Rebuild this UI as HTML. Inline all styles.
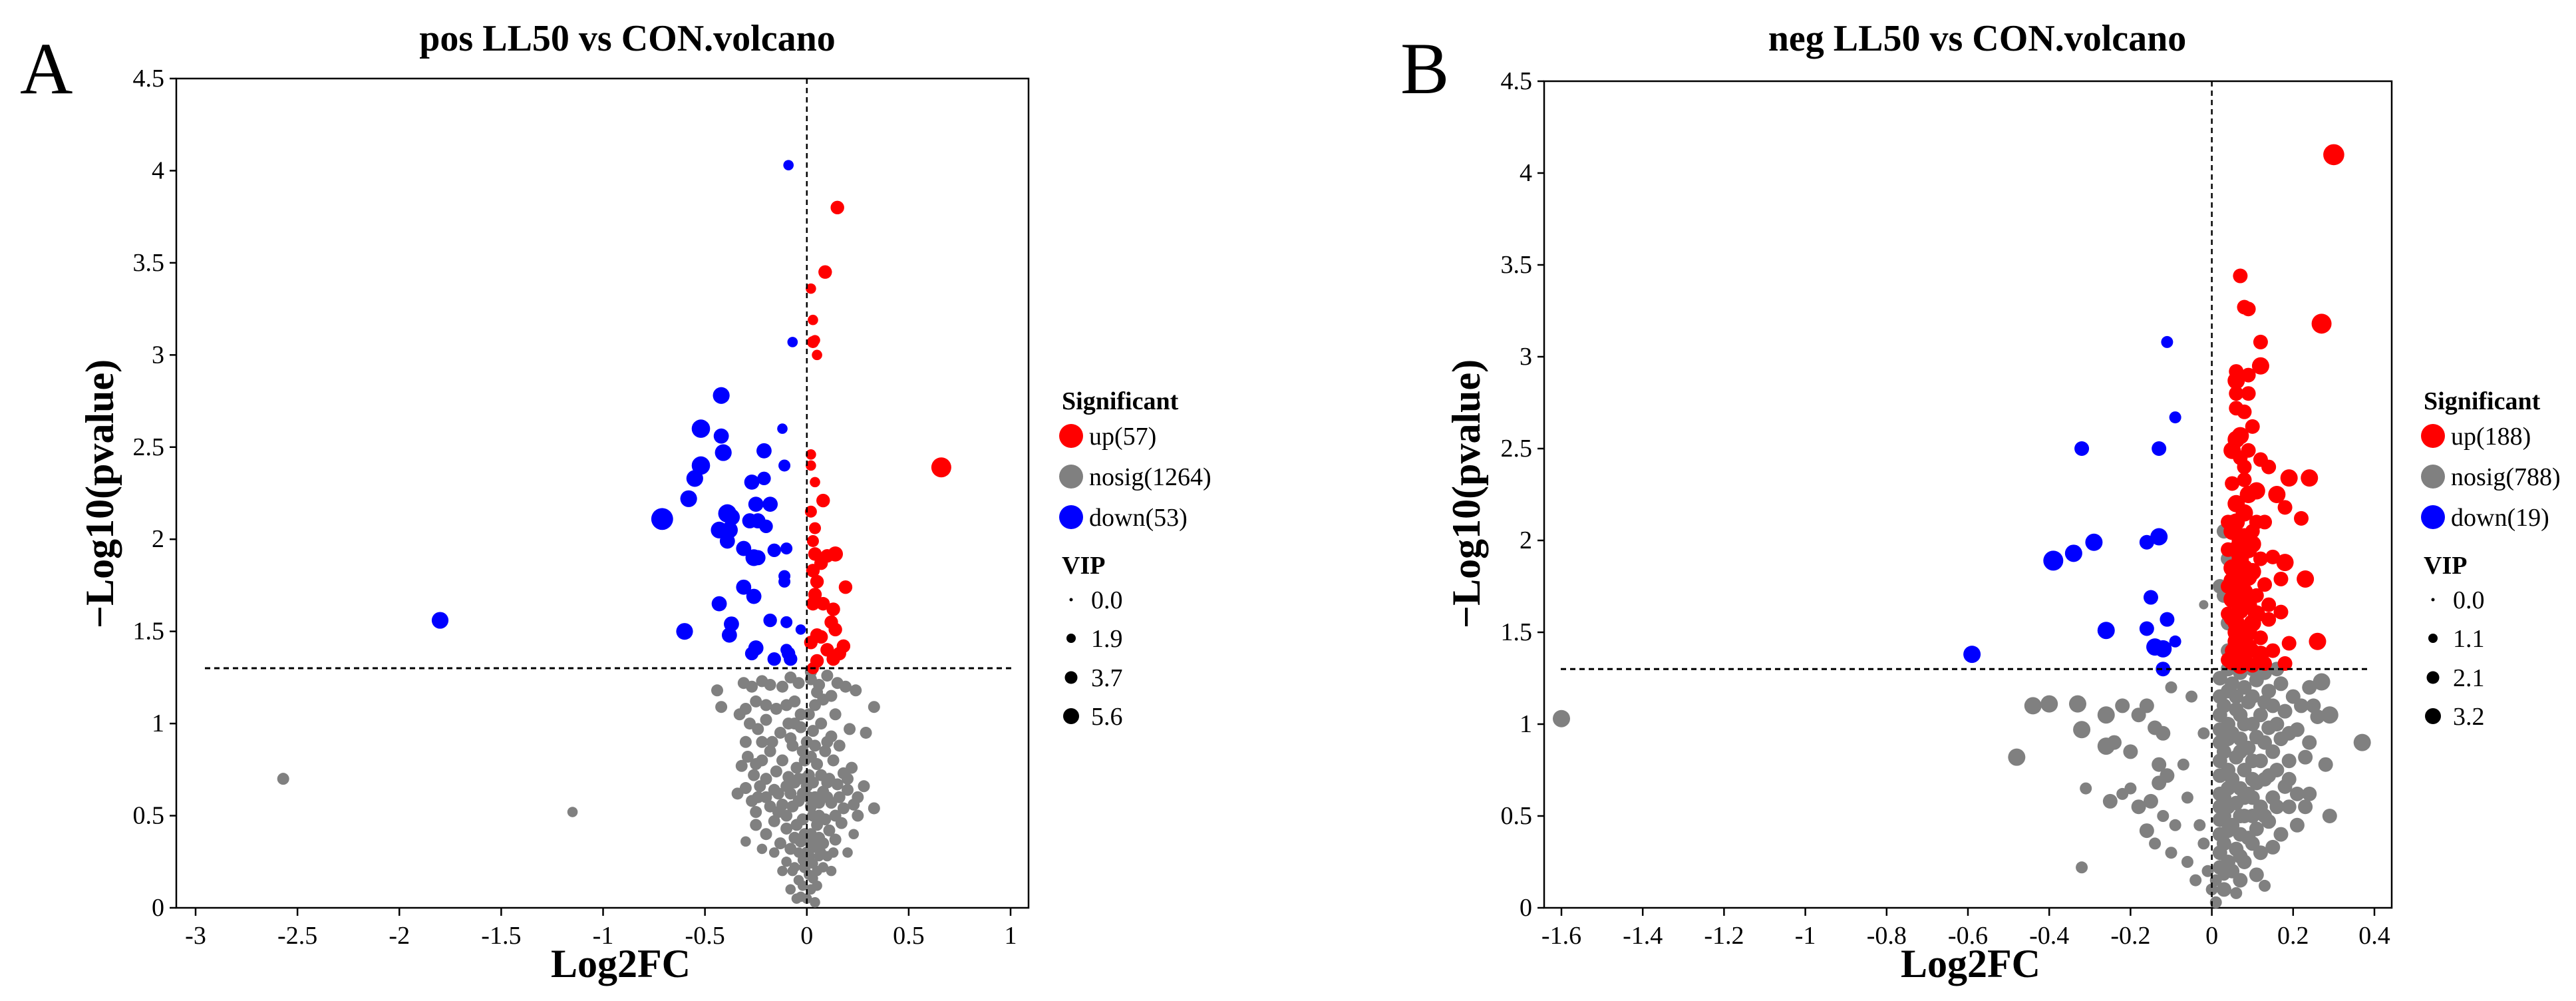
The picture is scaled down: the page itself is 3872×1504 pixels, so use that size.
<!DOCTYPE html>
<html><head><meta charset="utf-8">
<style>
html,body{margin:0;padding:0;background:#fff;}
svg{display:block;}
text{font-family:"Liberation Serif","Times New Roman",serif;fill:#000;}
</style></head>
<body>
<svg id="chart" width="3872" height="1504" viewBox="0 0 3872 1504" xmlns="http://www.w3.org/2000/svg" font-family="'Liberation Serif', serif">
</svg>
<script>
// ---------- Panel A data ([log2fc, -log10p, vip]) ----------
const upA = [[0.15,3.8,3],[0.09,3.45,3],[0.02,3.36,2],[0.03,3.19,2],[0.03,3.07,2.5],[0.04,3.08,2],[0.05,3.0,2],[0.66,2.39,5],[0.02,2.46,2],[0.02,2.4,2],[0.04,2.31,2],[0.08,2.21,3],[0.02,2.15,2.5],[0.04,2.06,2.5],[0.03,1.99,2.5],[0.04,1.92,3],[0.1,1.91,3],[0.14,1.92,3.5],[0.07,1.87,3],[0.03,1.83,3],[0.05,1.77,3],[0.19,1.74,3],[0.04,1.7,3],[0.03,1.65,3],[0.08,1.65,3],[0.13,1.62,3],[0.12,1.55,3],[0.14,1.51,3],[0.05,1.48,3],[0.07,1.47,3],[0.02,1.44,3],[0.1,1.4,3],[0.18,1.42,3],[0.16,1.38,3],[0.13,1.35,3],[0.05,1.34,3],[0.03,1.3,2.5]];
const downA = [[-0.09,4.03,2],[-0.07,3.07,2],[-0.42,2.78,4],[-0.52,2.6,4.5],[-0.12,2.6,2],[-0.42,2.56,3.5],[-0.41,2.47,4],[-0.21,2.48,3.5],[-0.52,2.4,4.5],[-0.11,2.4,2.5],[-0.55,2.33,4],[-0.27,2.31,3.5],[-0.21,2.33,3],[-0.58,2.22,4],[-0.25,2.19,3.5],[-0.18,2.19,3.5],[-0.71,2.11,5.6],[-0.39,2.14,4.5],[-0.37,2.12,4],[-0.28,2.1,3.5],[-0.24,2.1,3.5],[-0.2,2.07,3],[-0.43,2.05,4],[-0.38,2.05,4],[-0.39,1.99,3.5],[-0.31,1.95,3.5],[-0.16,1.94,3],[-0.1,1.95,2.5],[-0.26,1.9,4],[-0.24,1.9,3.5],[-0.11,1.8,2.5],[-0.11,1.77,2.5],[-0.31,1.74,3.5],[-0.26,1.69,3.5],[-0.43,1.65,3.5],[-0.18,1.56,3],[-0.1,1.55,2.5],[-0.37,1.54,3.5],[-0.6,1.5,4],[-1.8,1.56,4],[-0.38,1.48,3.5],[-0.03,1.51,2],[-0.25,1.41,3.5],[-0.27,1.38,3],[-0.16,1.35,3],[-0.09,1.38,3],[-0.08,1.35,3],[-0.1,1.4,2.5]];
const nosigA = [[-2.57,0.7,2.5],[-1.15,0.52,2],[-0.31,1.22,2.5],[-0.27,1.2,2.5],[-0.22,1.23,2.5],[-0.18,1.21,2.5],[-0.12,1.2,2.5],[-0.08,1.25,2.5],[-0.04,1.22,2.5],[0.02,1.24,2.5],[0.06,1.21,2.5],[0.1,1.26,2.5],[0.15,1.22,2.5],[0.19,1.2,2.5],[0.24,1.18,2.5],[-0.44,1.18,2.5],[-0.42,1.09,2.5],[0.33,1.09,2.5],[-0.3,1.08,2.5],[-0.25,1.12,2.5],[-0.2,1.1,2.5],[-0.15,1.08,2.5],[-0.06,1.12,2.5],[0.04,1.1,2.5],[0.08,1.13,2.5],[0.14,1.05,2.5],[-0.33,1.05,2.5],[-0.28,1.0,2.5],[-0.24,0.97,2.5],[-0.2,1.02,2.5],[-0.13,0.95,2.5],[-0.09,1.0,2.5],[-0.03,0.98,2.5],[0.03,0.96,2.5],[0.07,1.0,2.5],[0.12,0.93,2.5],[0.21,0.97,2.5],[0.29,0.95,2.5],[-0.3,0.9,2.5],[-0.17,0.9,2.5],[-0.07,0.88,2.5],[-0.29,0.82,2.5],[-0.25,0.78,2.5],[-0.22,0.8,2.5],[-0.18,0.85,2.5],[-0.12,0.8,2.5],[-0.05,0.76,2.5],[0.02,0.82,2.5],[0.05,0.78,2.5],[0.09,0.85,2.5],[0.13,0.8,2.5],[0.18,0.73,2.5],[0.22,0.76,2.5],[-0.32,0.77,2.5],[-0.26,0.72,2.5],[-0.15,0.74,2.5],[-0.09,0.71,2.5],[0.11,0.7,2.5],[0.15,0.67,2.5],[0.01,0.72,2.5],[-0.02,0.85,2.5],[-0.34,0.62,2.5],[-0.3,0.65,2.5],[-0.27,0.58,2.5],[-0.23,0.66,2.5],[-0.2,0.6,2.5],[-0.16,0.64,2.5],[-0.12,0.56,2.5],[-0.08,0.62,2.5],[-0.04,0.58,2.5],[0.0,0.66,2.5],[0.04,0.6,2.5],[0.08,0.63,2.5],[0.12,0.57,2.5],[0.16,0.6,2.5],[0.2,0.64,2.5],[0.23,0.56,2.5],[0.28,0.66,2.5],[0.33,0.54,2.5],[-0.25,0.52,2.5],[-0.14,0.52,2.5],[0.06,0.5,2.5],[0.14,0.5,2.5],[-0.06,0.68,2.5],[0.1,0.68,2.5],[-0.18,0.55,2.5],[0.18,0.54,2.5],[-0.3,0.36,2],[-0.25,0.45,2.5],[-0.2,0.4,2.5],[-0.16,0.47,2.5],[-0.13,0.35,2.5],[-0.1,0.43,2.5],[-0.06,0.38,2.5],[-0.02,0.48,2.5],[0.02,0.4,2.5],[0.05,0.45,2.5],[0.08,0.35,2.5],[0.11,0.42,2.5],[0.14,0.37,2.5],[0.17,0.46,2.5],[0.23,0.4,2],[0.2,0.3,2],[-0.22,0.32,2],[0.07,0.3,2],[-0.04,0.3,2],[-0.1,0.25,2],[-0.07,0.2,2],[-0.04,0.15,2],[-0.02,0.26,2],[0.01,0.18,2],[0.03,0.24,2],[0.05,0.12,2],[0.08,0.22,2],[0.1,0.28,2],[-0.08,0.1,2],[-0.03,0.06,2],[0.0,0.05,2],[0.02,0.1,2],[0.12,0.2,2],[-0.12,0.2,2],[0.06,0.28,2],[0.0,0.9,2.5],[0.01,0.6,2.5],[-0.01,0.4,2.5],[0.02,0.35,2.5],[0.01,1.05,2.5],[-0.01,0.7,2.5],[0.0,0.3,2.5],[0.02,0.55,2.5],[-0.05,0.05,2],[0.04,0.03,2],[-0.02,0.12,2],[0.03,0.16,2],[-0.06,0.22,2],[0.05,0.2,2],[-0.01,0.22,2.5],[0.01,0.28,2.5],[-0.03,0.36,2.5],[0.04,0.33,2.5],[-0.08,0.32,2.5],[0.06,0.38,2.5],[-0.05,0.45,2.5],[0.03,0.5,2.5],[-0.1,0.5,2.5],[0.09,0.48,2.5],[-0.07,0.55,2.5],[0.06,0.57,2.5],[-0.02,0.62,2.5],[-0.1,0.66,2.5],[0.03,0.68,2.5],[0.07,0.72,2.5],[-0.04,0.7,2.5],[-0.14,0.62,2.5],[0.1,0.6,2.5],[-0.2,0.7,2.5],[0.2,0.7,2.5],[-0.24,0.6,2.5],[0.25,0.6,2.5],[-0.01,0.8,2.5],[0.04,0.88,2.5],[-0.08,0.92,2.5],[0.1,0.9,2.5],[-0.03,1.05,2.5],[0.05,1.17,2.5],[-0.1,1.1,2.5],[0.12,1.15,2.5],[0.02,1.28,2.5],[-0.06,1.0,2.5],[0.16,0.88,2.5],[-0.22,0.9,2.5],[0.25,0.5,2.5],[-0.16,0.3,2],[0.13,0.3,2]];
const xTicksA = [-3,-2.5,-2,-1.5,-1,-0.5,0,0.5,1];
const xTickLabelsA = ["-3","-2.5","-2","-1.5","-1","-0.5","0","0.5","1"];
const vipLegendA = ["0.0","1.9","3.7","5.6"];
const countsA = [57,1264,53];

// ---------- Panel B data ----------
const upB = [[0.3,4.1,3.2],[0.07,3.44,2],[0.27,3.18,3],[0.08,3.27,2],[0.09,3.26,2],[0.12,3.08,2],[0.12,2.95,2.5],[0.06,2.92,2],[0.06,2.87,2.5],[0.09,2.9,2],[0.06,2.8,2],[0.09,2.8,2],[0.06,2.72,2],[0.08,2.7,2],[0.07,2.57,2.5],[0.06,2.55,2.5],[0.09,2.49,2],[0.05,2.49,2.5],[0.12,2.44,2],[0.14,2.4,2],[0.19,2.34,2.5],[0.24,2.34,2.5],[0.05,2.31,2],[0.08,2.33,2],[0.11,2.27,2.5],[0.16,2.25,2.5],[0.18,2.18,2],[0.22,2.12,2],[0.06,2.2,2.5],[0.08,2.15,2.5],[0.05,2.05,2.5],[0.07,2.0,2.5],[0.09,1.95,2.5],[0.15,1.91,2],[0.18,1.88,2.5],[0.05,1.85,2.5],[0.1,1.83,2.5],[0.13,1.76,2],[0.17,1.79,2],[0.23,1.79,2.5],[0.06,1.7,2.5],[0.09,1.65,2.5],[0.14,1.57,2],[0.17,1.61,2],[0.05,1.58,2.5],[0.1,1.55,2.5],[0.12,1.47,2],[0.19,1.44,2],[0.26,1.45,2.5],[0.06,1.45,2.5],[0.08,1.38,2.5],[0.05,1.34,2.5],[0.13,1.33,2],[0.18,1.33,2],[0.1,1.32,2],[0.04,1.6,2],[0.04,1.75,2],[0.04,1.95,2],[0.04,2.1,2],[0.07,1.78,2.5],[0.07,1.9,2.5],[0.06,1.5,2.5],[0.1,2.05,2],[0.11,1.7,2],[0.12,1.9,2],[0.08,2.4,2],[0.1,1.4,2],[0.05,1.4,2],[0.07,1.62,2.5],[0.11,2.1,2],[0.04,1.35,2],[0.07,1.32,2.5],[0.09,1.5,2.5],[0.08,1.72,2.5],[0.1,1.98,2.5],[0.06,2.1,2.5],[0.09,2.25,2.5],[0.05,1.68,2.5],[0.08,1.85,2.5],[0.11,1.6,2.5],[0.06,1.95,2.5],[0.08,2.02,2.5],[0.09,1.42,2.5],[0.12,1.38,2.5],[0.15,1.4,2],[0.14,1.65,2],[0.13,2.1,2],[0.05,1.78,2.5],[0.07,2.45,2],[0.1,2.62,2],[0.06,1.55,2.5],[0.09,1.8,2.5]];
const downB = [[-0.11,3.08,1.5],[-0.09,2.67,1.5],[-0.32,2.5,2],[-0.13,2.5,2],[-0.39,1.89,3],[-0.34,1.93,2.5],[-0.29,1.99,2.5],[-0.13,2.02,2.5],[-0.16,1.99,2],[-0.15,1.69,2],[-0.11,1.57,2],[-0.16,1.52,2],[-0.26,1.51,2.5],[-0.09,1.45,1.5],[-0.14,1.42,2.5],[-0.12,1.41,2.5],[-0.59,1.38,2.5],[-0.12,1.3,2]];
const nosigB = [[-1.6,1.03,2.5],[-0.48,0.82,2.5],[-0.44,1.1,2.5],[-0.4,1.11,2.5],[-0.33,1.11,2.5],[-0.32,0.97,2.5],[-0.26,1.05,2.5],[-0.22,1.1,2],[-0.26,0.88,2.5],[-0.24,0.9,2],[-0.2,0.85,2],[-0.18,1.05,2],[-0.16,1.1,2],[-0.14,0.98,2],[-0.13,0.78,2],[-0.12,0.95,2],[-0.1,1.2,1.5],[-0.05,1.15,1.5],[-0.02,1.65,1],[-0.31,0.65,1.5],[-0.25,0.58,2],[-0.22,0.62,1.5],[-0.18,0.55,2],[-0.15,0.58,2],[-0.13,0.68,2],[-0.11,0.72,2],[-0.07,0.78,1.5],[-0.06,0.6,1.5],[-0.12,0.5,1.5],[-0.09,0.45,1.5],[-0.16,0.42,2],[-0.14,0.35,1.5],[-0.1,0.3,1.5],[-0.06,0.25,1.5],[-0.04,0.15,1.5],[-0.32,0.22,1.5],[-0.2,0.65,1.5],[-0.03,0.45,1.5],[-0.02,0.95,1.5],[0.0,0.1,1.5],[0.02,1.25,2],[0.05,1.22,2],[0.08,1.2,2],[0.11,1.24,2],[0.14,1.18,2],[0.17,1.22,2],[0.2,1.15,2],[0.24,1.2,2],[0.27,1.23,2.5],[0.03,1.1,2],[0.06,1.08,2],[0.09,1.12,2],[0.12,1.05,2],[0.15,1.1,2],[0.18,1.07,2],[0.22,1.1,2],[0.26,1.04,2],[0.29,1.05,2.5],[0.02,0.97,2],[0.05,0.95,2],[0.08,1.0,2],[0.11,0.93,2],[0.14,0.98,2],[0.17,0.92,2],[0.21,0.97,2],[0.24,0.9,2],[0.37,0.9,2.5],[0.03,0.85,2],[0.06,0.82,2],[0.09,0.87,2],[0.12,0.8,2],[0.15,0.85,2],[0.19,0.8,2],[0.23,0.82,2],[0.28,0.78,2],[0.02,0.72,2],[0.05,0.7,2],[0.08,0.75,2],[0.11,0.68,2],[0.14,0.72,2],[0.18,0.66,2],[0.21,0.62,2],[0.24,0.62,2],[0.03,0.6,2],[0.06,0.57,2],[0.09,0.62,2],[0.12,0.55,2],[0.15,0.6,2],[0.19,0.55,2],[0.23,0.55,2],[0.29,0.5,2],[0.02,0.48,2],[0.05,0.45,2],[0.08,0.5,2],[0.11,0.43,2],[0.14,0.47,2],[0.17,0.4,2],[0.03,0.35,2],[0.06,0.32,2],[0.09,0.38,2],[0.12,0.3,2],[0.15,0.33,2],[0.02,0.22,2],[0.05,0.2,2],[0.08,0.25,2],[0.11,0.18,2],[0.13,0.12,1.5],[0.03,0.1,2],[0.06,0.08,1.5],[0.01,0.03,1.5],[0.04,1.3,2],[0.07,1.28,2],[0.1,1.3,2],[0.13,1.28,2],[0.16,1.3,2],[0.04,1.4,2],[0.04,1.55,2],[0.03,1.7,2],[0.02,1.75,2],[0.03,2.05,2],[0.05,2.1,2],[0.04,1.9,2],[0.07,0.15,2],[0.1,0.6,2],[0.07,0.92,2],[0.1,1.15,2],[0.13,0.9,2],[0.16,0.75,2],[0.04,0.65,2],[0.07,0.4,2],[0.1,0.8,2],[0.04,1.0,2],[0.06,1.15,2],[0.03,0.5,2],[0.08,0.6,2],[0.02,1.15,2],[0.02,1.05,2],[0.02,0.9,2],[0.02,0.8,2],[0.02,0.62,2],[0.02,0.55,2],[0.02,0.4,2],[0.02,0.3,2],[0.04,0.25,2],[0.04,0.42,2],[0.04,0.55,2],[0.04,0.75,2],[0.04,0.92,2],[0.04,1.18,2],[0.07,1.05,2],[0.07,0.85,2],[0.07,0.65,2],[0.07,0.5,2],[0.07,0.28,2],[0.1,0.35,2],[0.1,0.5,2],[0.1,0.7,2],[0.1,1.0,2],[0.13,1.12,2],[0.13,0.7,2],[0.13,0.5,2],[0.16,0.55,2],[0.16,1.0,2],[0.19,0.95,2],[0.19,0.7,2],[0.21,0.45,2],[0.25,1.1,2],[0.01,0.15,1.5],[0.03,0.18,1.5],[-0.01,0.2,1.5],[-0.02,0.35,1.5]];
const xTicksB = [-1.6,-1.4,-1.2,-1,-0.8,-0.6,-0.4,-0.2,0,0.2,0.4];
const xTickLabelsB = ["-1.6","-1.4","-1.2","-1","-0.8","-0.6","-0.4","-0.2","0","0.2","0.4"];
const vipLegendB = ["0.0","1.1","2.1","3.2"];
const countsB = [188,788,19];

const yTicks = [0,0.5,1,1.5,2,2.5,3,3.5,4,4.5];
const yTickLabels = ["0","0.5","1","1.5","2","2.5","3","3.5","4","4.5"];

const NS = "http://www.w3.org/2000/svg";
const svg = document.getElementById('chart');
function mk(tag, attrs, parent, txt){
  const e = document.createElementNS(NS, tag);
  for (const k in attrs) e.setAttribute(k, attrs[k]);
  if (tag === 'text') e.setAttribute('font-family', "Liberation Serif, serif");
  if (txt !== undefined) e.textContent = txt;
  (parent||svg).appendChild(e);
  return e;
}

function panel(cfg){
  const g = mk('g', {});
  
  
  const X = v => cfg.px0 + (v - cfg.xmin) / (cfg.xmax - cfg.xmin) * (cfg.px1 - cfg.px0);
  const Y = v => cfg.py0 - v / 4.5 * (cfg.py0 - cfg.py1);
  const R = vip => cfg.r0 + vip * cfg.rk;

  const L = mk('text', {x: cfg.letterX, y: 140, 'font-size': 110}, g, cfg.letter);
  
  
  const T = mk('text', {x: cfg.titleX, y: 76, 'font-size': 56, 'font-weight': 'bold', 'text-anchor': 'middle'}, g, cfg.title);
  
  

  const fr = mk('rect', {x: cfg.frameL, y: cfg.py1, width: cfg.frameR - cfg.frameL, height: cfg.py0 - cfg.py1, fill: 'none', stroke: '#000', 'stroke-width': 2.5}, g);
  
  

  const pts = mk('g', {}, g);
  
  
  const series = [[cfg.nosig, '#808080', 'nosig-point'], [cfg.up, '#ff0000', 'up-point'], [cfg.down, '#0000ff', 'down-point']];
  for (const [arr, col, nm] of series) {
    for (const p of arr) {
      const c = mk('circle', {cx: X(p[0]), cy: Y(p[1]), r: R(p[2]), fill: col}, pts);
      
      
    }
  }

  const hl = mk('line', {x1: cfg.hx0, x2: cfg.hx1, y1: Y(1.3), y2: Y(1.3), stroke: '#000', 'stroke-width': 3, 'stroke-dasharray': '8,6'}, g);
  
  
  const vl = mk('line', {x1: X(0), x2: X(0), y1: cfg.py1, y2: cfg.py0, stroke: '#000', 'stroke-width': 2.5, 'stroke-dasharray': '8,6'}, g);
  
  

  yTicks.forEach((v, i) => {
    const t = mk('line', {x1: cfg.frameL - 10, x2: cfg.frameL, y1: Y(v), y2: Y(v), stroke: '#000', 'stroke-width': 2.5}, g);
    
    
    const tl = mk('text', {x: cfg.frameL - 18, y: Y(v) + 12, 'font-size': 38, 'text-anchor': 'end'}, g, yTickLabels[i]);
    
    
  });
  cfg.xt.forEach((v, i) => {
    const t = mk('line', {x1: X(v), x2: X(v), y1: cfg.py0, y2: cfg.py0 + 12, stroke: '#000', 'stroke-width': 2.5}, g);
    
    
    const tl = mk('text', {x: X(v), y: cfg.py0 + 54, 'font-size': 38, 'text-anchor': 'middle'}, g, cfg.xl[i]);
    
    
  });

  const xt = mk('text', {x: cfg.titleX - 10, y: 1468, 'font-size': 60, 'font-weight': 'bold', 'text-anchor': 'middle'}, g, 'Log2FC');
  
  
  const yt = mk('text', {x: 0, y: 0, 'font-size': 60, 'font-weight': 'bold', 'text-anchor': 'middle', transform: `translate(${cfg.ytX},742) rotate(-90)`}, g, '\u2212Log10(pvalue)');
  
  

  const lg = mk('g', {}, g);
  
  
  const lh = mk('text', {x: cfg.legX - 14, y: 615, 'font-size': 38, 'font-weight': 'bold'}, lg, 'Significant');
  
  
  const items = [['up', '#ff0000', 655, cfg.counts[0]], ['nosig', '#808080', 716, cfg.counts[1]], ['down', '#0000ff', 777, cfg.counts[2]]];
  for (const [nm, col, yy, n] of items) {
    const c = mk('circle', {cx: cfg.legX, cy: yy, r: 18, fill: col}, lg);
    
    
    const t = mk('text', {x: cfg.legX + 27, y: yy + 13, 'font-size': 38}, lg, nm + '(' + n + ')');
    
    
  }
  const vh = mk('text', {x: cfg.legX - 14, y: 862, 'font-size': 38, 'font-weight': 'bold'}, lg, 'VIP');
  
  
  const vr = [2.5, 7, 9.5, 12];
  const vy = [901, 959, 1018, 1076];
  cfg.vip.forEach((s, i) => {
    const c = mk('circle', {cx: cfg.legX, cy: vy[i], r: vr[i], fill: '#000'}, lg);
    
    
    const t = mk('text', {x: cfg.legX + 30, y: vy[i] + 13, 'font-size': 38}, lg, s);
    
    
  });
}

panel({id: 'pos', letter: 'A', letterX: 30, title: 'pos LL50 vs CON.volcano', titleX: 943,
  xmin: -3, xmax: 1, px0: 294, px1: 1519, py0: 1364, py1: 118, frameL: 265, frameR: 1546,
  hx0: 308, hx1: 1520, r0: 3, rk: 2.4, up: upA, down: downA, nosig: nosigA,
  xt: xTicksA, xl: xTickLabelsA, ytX: 170, legX: 1610, counts: countsA, vip: vipLegendA});

panel({id: 'neg', letter: 'B', letterX: 2105, title: 'neg LL50 vs CON.volcano', titleX: 2972,
  xmin: -1.6, xmax: 0.4, px0: 2347, px1: 3569, py0: 1364, py1: 122, frameL: 2321, frameR: 3595,
  hx0: 2346, hx1: 3564, r0: 3, rk: 4, up: upB, down: downB, nosig: nosigB,
  xt: xTicksB, xl: xTickLabelsB, ytX: 2224, legX: 3657, counts: countsB, vip: vipLegendB});
</script>
</body></html>
